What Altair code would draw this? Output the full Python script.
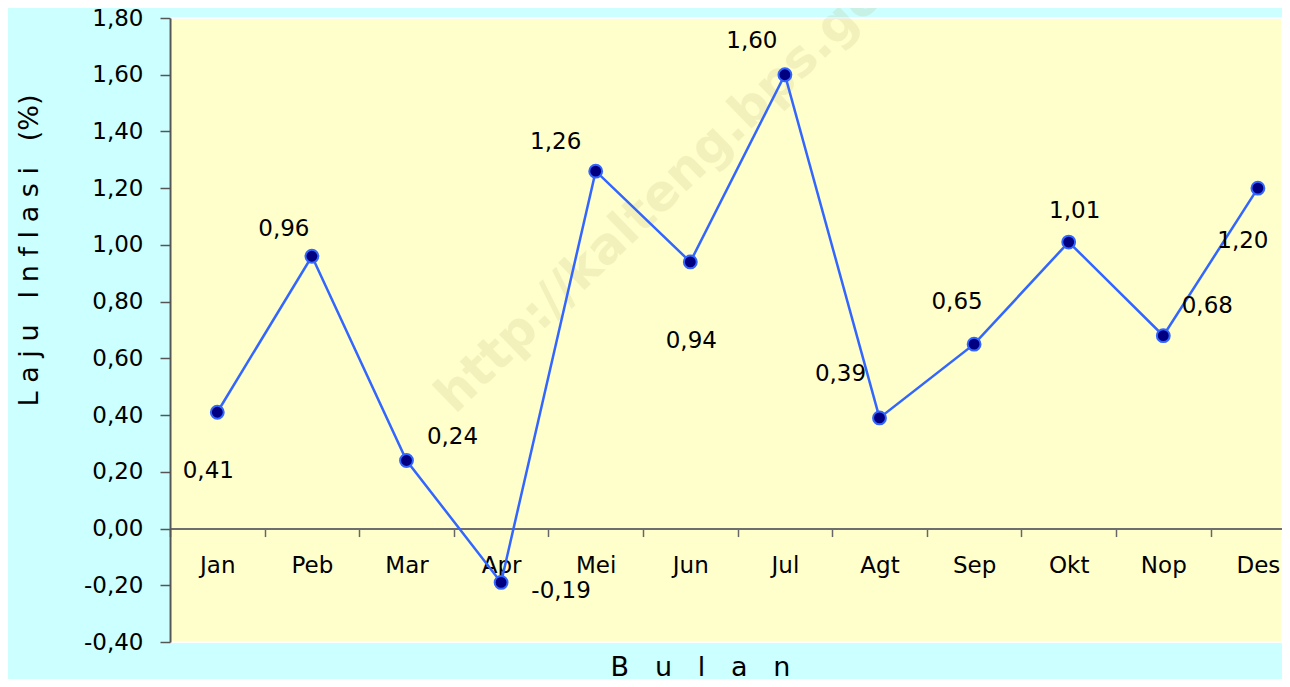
import altair as alt
import pandas as pd

# ---- data ----
months = ["Jan", "Peb", "Mar", "Apr", "Mei", "Jun", "Jul", "Agt", "Sep", "Okt", "Nop", "Des"]
inflation = [0.41, 0.96, 0.24, -0.19, 1.26, 0.94, 1.60, 0.39, 0.65, 1.01, 0.68, 1.20]
y_ticks = [-0.4, -0.2, 0.0, 0.2, 0.4, 0.6, 0.8, 1.0, 1.2, 1.4, 1.6, 1.8]
watermark_text = ["http://kalteng.bps.go.id"]

df = pd.DataFrame({"bulan": months, "laju": inflation})
df["label"] = [f"{v:.2f}".replace(".", ",") for v in inflation]

# ---- layout ----
W, H = 1112, 624
STEP = 94.6
FONT = "DejaVu Sans"
NB = "\u00a0"
y_title = NB.join("Laju") + NB * 3 + NB.join("Inflasi") + NB * 3 + "(%)"
x_title = (NB * 3).join("Bulan")
zero_offset = -(H - H * 1.8 / 2.2)

# label placement (dx, dy) relative to each point, as in the reference
label_offsets = {
    "Jan": (-9, 59), "Peb": (-28, -27), "Mar": (46, -23), "Apr": (60, 9),
    "Mei": (-40, -29), "Jun": (1, 79), "Jul": (-33, -34), "Agt": (-39, -44),
    "Sep": (-17, -42), "Okt": (6, -31), "Nop": (44, -30), "Des": (-15, 53),
}

x_enc = alt.X(
    "bulan:N",
    sort=months,
    scale=alt.Scale(type="band", domain=months, range=[0, STEP * 12],
                    paddingInner=0, paddingOuter=0, round=False),
    axis=alt.Axis(
        title=x_title, titleFont=FONT, titleFontSize=27, titleFontWeight="normal",
        titleColor="black", titleX=530, titleY=147, titleAlign="center",
        titleBaseline="alphabetic", titleAngle=0,
        offset=zero_offset, tickBand="extent", tickSize=8, tickColor="#666666",
        tickWidth=1.5, domainColor="#6E6E6E", domainWidth=2,
        labelFont=FONT, labelFontSize=23, labelColor="black", labelAngle=0,
        labelBaseline="alphabetic", labelPadding=36, grid=False,
    ),
)
y_enc = alt.Y(
    "laju:Q",
    scale=alt.Scale(domain=[-0.4, 1.8], nice=False, zero=False),
    axis=alt.Axis(
        values=y_ticks,
        labelExpr="(datum.value < -0.001 ? '-' : '') + replace(format(abs(datum.value), '.2f'), '.', ',')",
        title=y_title, titleFont=FONT, titleFontSize=27, titleFontWeight="normal",
        titleColor="black", titleAngle=270, titleX=-133, titleY=232,
        titleAlign="center", titleBaseline="alphabetic",
        tickSize=10, tickColor="#555555", tickWidth=1.5,
        domainColor="#555555", domainWidth=2,
        labelFont=FONT, labelFontSize=23, labelColor="black", labelPadding=17,
        grid=False,
    ),
)

base = alt.Chart(df).encode(x=x_enc, y=y_enc)

watermark = alt.Chart(pd.DataFrame({"t": watermark_text})).mark_text(
    font=FONT, fontSize=50, fontWeight="bold", angle=316, align="left",
    baseline="alphabetic", color="#B8B070", opacity=0.17,
).encode(x=alt.value(285), y=alt.value(397), text="t:N")

line = base.mark_line(color="#3366FF", strokeWidth=2.5)
points = base.mark_circle(size=165, color="#000080", stroke="#3366FF",
                          strokeWidth=2, opacity=1)

labels = []
for m in months:
    dx, dy = label_offsets[m]
    labels.append(
        base.transform_filter(alt.datum.bulan == m).mark_text(
            font=FONT, fontSize=23, color="black", align="center",
            baseline="middle", dx=dx, dy=dy,
        ).encode(text="label:N")
    )

chart = alt.layer(watermark, line, points, *labels).properties(
    width=W, height=H,
    autosize=alt.AutoSizeParams(type="none"),
    padding={"left": 162, "top": 10, "right": 0, "bottom": 37},
    background="#CCFFFF",
).configure_view(fill="#FFFFCC", stroke="white", strokeWidth=2)

chart.save("out.html", embed_options={"renderer": "svg", "actions": False})
